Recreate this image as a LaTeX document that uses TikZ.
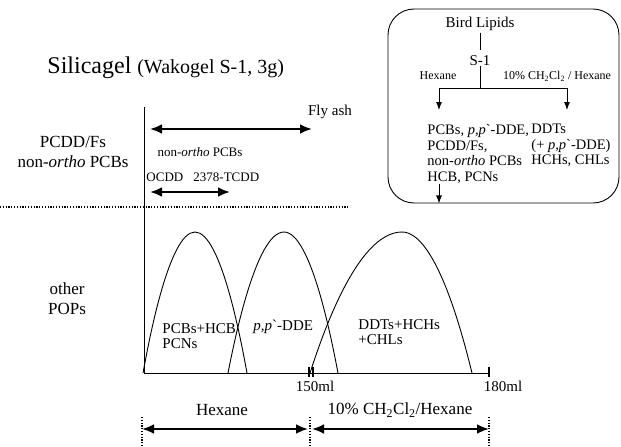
\documentclass[tikz,border=0pt]{standalone}
\usepackage{fontspec}
\setmainfont{Liberation Serif}
\usetikzlibrary{arrows.meta, positioning, calc}

\begin{document}
\begin{tikzpicture}[x=1pt, y=-1pt, inner sep=0pt, line width=0.9pt,
        arr/.style={-{Latex[length=8pt,width=6pt]}},
        darr/.style={{Latex[length=12pt,width=10pt]}-{Latex[length=12pt,width=10pt]}, line width=2.4pt},
        dots/.style={line width=1.5pt, dash pattern=on 1.2pt off 1.6pt},
        tick/.style={line width=2pt},
        big/.style={font=\fontsize{24}{28}\selectfont},
        sub/.style={font=\fontsize{20}{24}\selectfont},
        lab/.style={font=\fontsize{17}{20}\selectfont, align=center},
        mid/.style={font=\fontsize{15}{15.5}\selectfont, align=left},
        boxtxt/.style={font=\fontsize{14.5}{15.5}\selectfont, align=left},
        small/.style={font=\fontsize{13}{15}\selectfont},
        tiny/.style={font=\fontsize{12}{14}\selectfont}]
        \useasboundingbox (0,0) rectangle (621,447);
        % Box
        \node[draw, rounded corners=26pt, minimum width=231pt, minimum height=194pt] (lipidbox) at (503.5,106) {};
        \node[mid] (bird) at (480,24) {Bird Lipids};
        \node[mid] (s1) at (480,61) {S-1};
        \node[tiny] (hex) at (438,76) {Hexane};
        \node[tiny] (mix) at (557,76) {10\% CH\textsubscript{2}Cl\textsubscript{2} / Hexane};
        \node[boxtxt, anchor=north west] (hexout) at (427,124) {PCBs, \textit{p,p}\textasciigrave-DDE,\\PCDD/Fs,\\non-\textit{ortho} PCBs\\HCB, PCNs};
        \node[boxtxt, anchor=north west] (mixout) at (531,124) {DDTs\\(+ \textit{p,p}\textasciigrave-DDE)\\HCHs, CHLs};
        \coordinate (split) at (480,88);
        \coordinate (hexend) at (439,110);
        \coordinate (mixend) at (567,110);
        % Box arrows
        \draw[shorten <=2pt, shorten >=6pt] (bird) -- (s1);
        \draw (s1) -- (split);
        \draw[arr] (split) -| (hexend);
        \draw[arr] (split) -| (mixend);
        \draw[arr] (hexout.south -| hexend) -- (lipidbox.south -| hexend);
        % Title
        \node[big, anchor=base west] (title) at (47,73) {Silicagel};
        \node[sub, base right=5pt of title] (titlenote) {(Wakogel S-1, 3g)};
        % Axes
        \coordinate (top) at (144,107);
        \coordinate (origin) at (144,373);
        \coordinate (xend) at (490,373);
        \draw (top) -- (origin) -- (xend);
        % Upper part
        \node[mid] (fly) at (330,112) {Fly ash};
        \coordinate (flyL) at (150,129);
        \coordinate (flyR) at (312,129);
        \draw[darr] (flyL) -- (flyR);
        \node[small] (nonortho) at (200,152) {non-\textit{ortho} PCBs};
        \node[small, anchor=west] (ocdd) at (146,177) {OCDD};
        \node[small, anchor=west] (tcdd) at (193,177) {2378-TCDD};
        \coordinate (ocddL) at (150,192);
        \coordinate (tcddR) at (230,192);
        \draw[darr] (ocddL) -- (tcddR);
        \coordinate (sepL) at (0,207);
        \coordinate (sepR) at (350,207);
        \draw[dots] (sepL) -- (sepR);
        \node[lab] (pcdd) at (73,152) {PCDD/Fs\\non-\textit{ortho} PCBs};
        \node[lab] (other) at (67,299) {other\\POPs};
        % Peaks
        \draw (143,373) parabola bend (195,232) (247,373);
        \draw (228,373) parabola bend (284,232) (338,373);
        \draw (310,373) parabola bend (402,232) (472,373);
        \node[mid, anchor=west] (pcbs) at (162,336) {PCBs+HCB\\PCNs};
        \node[mid, anchor=west] (dde) at (253,327) {\textit{p,p}\textasciigrave-DDE};
        \node[mid, anchor=west] (ddts) at (358,332) {DDTs+HCHs\\+CHLs};
        % Volume ticks
        \draw[tick] (309,367) -- (309,377);
        \draw[tick] (313,367) -- (313,377);
        \draw[tick] (489,367) -- (489,377);
        \node[mid] (ml150) at (315,386) {150ml};
        \node[mid] (ml180) at (503,386) {180ml};
        % Solvents
        \coordinate (hexL) at (142,429);
        \coordinate (hexR) at (310,429);
        \coordinate (mixR) at (489,429);
        \draw[darr] (hexL) -- ([xshift=-2pt]hexR);
        \draw[darr] ([xshift=2pt]hexR) -- (mixR);
        \foreach \c in {hexL,hexR,mixR}
            \draw[dots] ($(\c)+(0,-12)$) -- ($(\c)+(0,18)$);
        \node[lab] (hexane) at (222,410) {Hexane};
        \node[lab] (mixbot) at (400,410) {10\% CH\textsubscript{2}Cl\textsubscript{2}/Hexane};
    \end{tikzpicture}
\end{document}
